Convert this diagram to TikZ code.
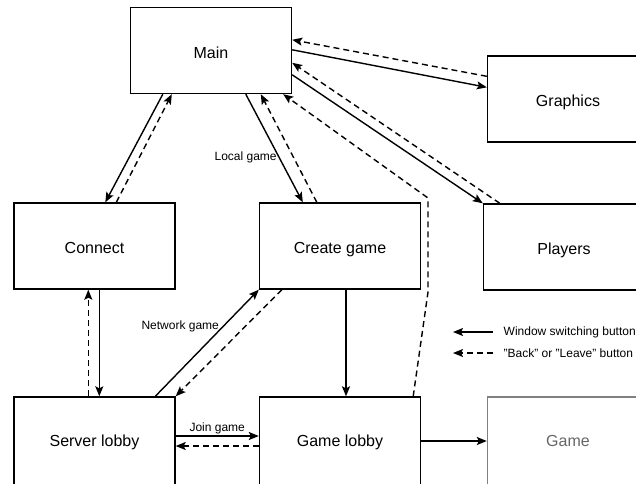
\documentclass[tikz,border=0pt]{standalone}
\usepackage{fontspec}
\setmainfont{Liberation Sans}
\usetikzlibrary{arrows.meta}
\definecolor{gamegray}{HTML}{808080}
\definecolor{gametext}{HTML}{666666}
\tikzset{
  box/.style={draw, line width=1.4pt, minimum width=161pt, minimum height=86pt, inner sep=0pt, text height=15pt, text depth=0pt, font=\fontsize{16}{19}\selectfont},
  lowbox/.style={box, minimum height=96pt, text height=11.5pt, text depth=8pt},
  sarr/.style={line width=1.4pt, -{Stealth[length=10pt,width=8pt,inset=2pt]}},
  darr/.style={sarr, dash pattern=on 6pt off 4pt},
  lbl/.style={font=\fontsize{12}{14}\selectfont, inner sep=1.5pt}
}
\begin{document}
\begin{tikzpicture}[x=1pt,y=-1pt]
\useasboundingbox (0,0) rectangle (636,483);
\begin{scope}
\clip (0,0) rectangle (636,483);
\node[box] (main) at (211,50.5) {Main};
\node[box] (graphics) at (568,99) {Graphics};
\node[box] (connect) at (94.5,246) {Connect};
\node[box] (create) at (340,246) {Create game};
\node[box] (players) at (564,247) {Players};
\node[lowbox] (server) at (94.5,445) {Server lobby};
\node[lowbox] (glob) at (340,445) {Game lobby};
\node[lowbox, draw=gamegray, text=gametext] (game) at (568,445) {Game};

% Main <-> Graphics
\draw[sarr] ([yshift=-43pt]main.north east) -- ([yshift=-32pt]graphics.north west);
\draw[darr] ([yshift=-21pt]graphics.north west) -- ([yshift=-33pt]main.north east);
% Main <-> Players
\draw[sarr] ([yshift=-68pt]main.north east) -- (players.north west);
\draw[darr] ([xshift=17pt]players.north west) -- ([yshift=-56pt]main.north east);
% Game lobby -> Main
\coordinate (w1) at (428,292);
\coordinate (w2) at (428,198);
\draw[darr] ([xshift=-8pt]glob.north east) -- (w1) -- (w2) -- ([xshift=-9pt]main.south east);
% Main <-> Create game
\draw[sarr] ([xshift=116pt]main.south west) -- node[lbl, pos=0.58, left] {Local game} ([xshift=44pt]create.north west);
\draw[darr] ([xshift=58pt]create.north west) -- ([xshift=131pt]main.south west);
% Main <-> Connect
\draw[sarr] ([xshift=33pt]main.south west) -- ([xshift=92pt]connect.north west);
\draw[darr] ([xshift=103pt]connect.north west) -- ([xshift=42pt]main.south west);
% Connect <-> Server lobby
\draw[sarr] ([xshift=86pt]connect.south west) -- ([xshift=86pt]server.north west);
\draw[darr] ([xshift=75pt]server.north west) -- ([xshift=75pt]connect.south west);
% Server lobby <-> Create game
\draw[sarr] ([xshift=142pt]server.north west) -- node[lbl, pos=0.66, left, inner sep=4pt] {Network game} (create.south west);
\draw[darr] ([xshift=23pt]create.south west) -- (server.north east);
% Create game -> Game lobby
\draw[sarr] ([xshift=6pt]create.south) -- ([xshift=6pt]glob.north);
% Server lobby <-> Game lobby
\draw[sarr] ([yshift=9pt]server.east) -- node[lbl, above] {Join game} ([yshift=9pt]glob.west);
\draw[darr] ([yshift=-1pt]glob.west) -- ([yshift=-1pt]server.east);
% Game lobby -> Game
\draw[sarr] ([yshift=4pt]glob.east) -- ([yshift=4pt]game.west);

% Legend
\coordinate (l1s) at (493,332);
\coordinate (l1e) at (453,332);
\coordinate (l2s) at (493,353);
\coordinate (l2e) at (453,353);
\draw[sarr] (l1s) -- (l1e);
\draw[darr] (l2s) -- (l2e);
\node[lbl, anchor=west] (leg1) at (502,332) {Window switching button};
\node[lbl, anchor=west] (leg2) at (502,353) {"Back" or "Leave" button};
\end{scope}
\end{tikzpicture}
\end{document}
